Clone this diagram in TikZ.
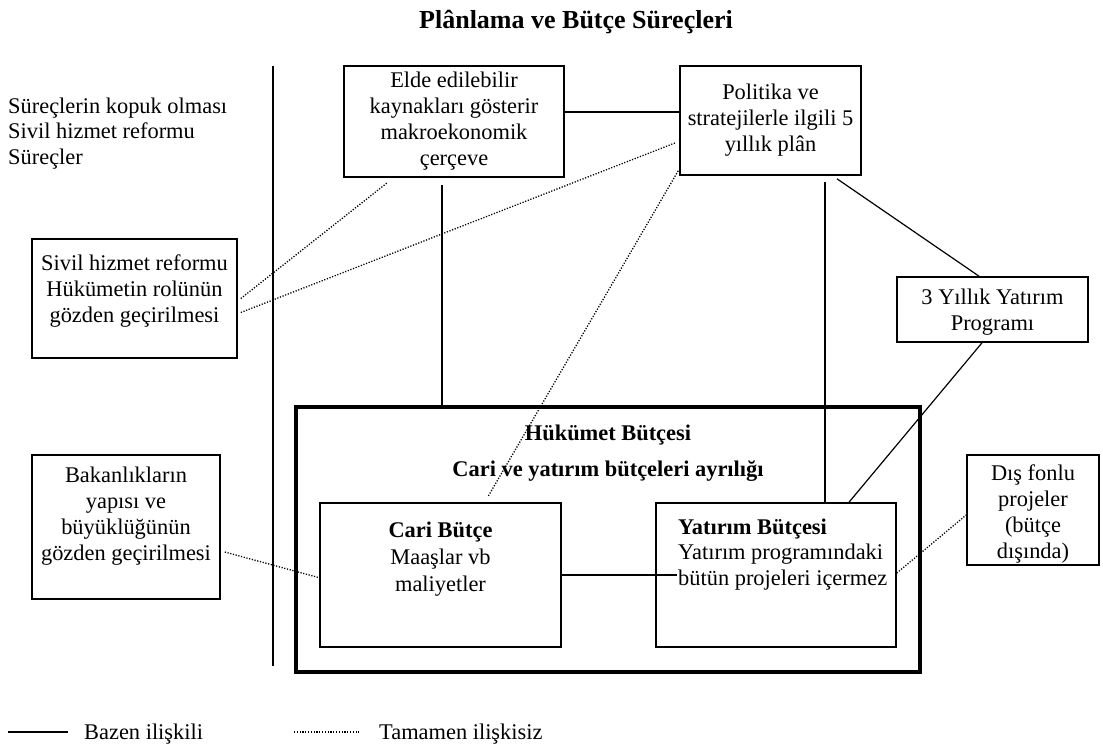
\documentclass[tikz,border=0pt]{standalone}
\usepackage{fontspec}
\setmainfont{Liberation Serif}
\begin{document}
\begin{tikzpicture}[x=1pt,y=-1pt,
  box/.style={draw, line width=1.6pt, inner sep=0pt, rectangle},
  bigbox/.style={draw, line width=3.5pt, inner sep=0pt, rectangle},
  txt/.style={inner sep=0pt, align=center, anchor=north, font=\fontsize{22.4}{26}\selectfont},
  ltxt/.style={inner sep=0pt, align=left, anchor=north west, font=\fontsize{22.4}{25.5}\selectfont},
  rel/.style={line width=1.2pt},
  norel/.style={line width=1.3pt, dash pattern=on 1.2pt off 1.6pt},
]
\useasboundingbox (0,0) rectangle (1103,749);

% title
\node[inner sep=0pt, anchor=base, font=\fontsize{26}{30}\selectfont\bfseries] (title) at (576,28.5) {Plânlama ve Bütçe Süreçleri};

% separator between the notes column and the process boxes
\draw[line width=1.3pt] (273,66) -- (273,666);

\node[ltxt] (notes) at (8,95) {\strut Süreçlerin kopuk olması\\Sivil hizmet reformu\\Süreçler};

% boxes
\node[box, minimum width=220pt, minimum height=111pt] (elde) at (454,121.5) {};
\node[txt] (eldeT) at (454,69) {\strut Elde edilebilir\\kaynakları gösterir\\makroekonomik\\çerçeve};

\node[box, minimum width=181pt, minimum height=109pt] (plan) at (770.5,120.5) {};
\node[txt] (planT) at (770.5,81) {\strut Politika ve\\stratejilerle ilgili 5\\yıllık plân};

\node[box, minimum width=205pt, minimum height=119pt] (sivil) at (134.5,298.5) {};
\node[txt] (sivilT) at (134.5,252) {\strut Sivil hizmet reformu\\Hükümetin rolünün\\gözden geçirilmesi};

\node[box, minimum width=191pt, minimum height=65pt] (yil) at (992.5,309.5) {};
\node[txt] (yilT) at (992.5,286) {\strut 3 Yıllık Yatırım\\Programı};

\node[bigbox, minimum width=624pt, minimum height=265pt] (huk) at (608,539.5) {};
\node[txt, font=\fontsize{22.4}{26}\selectfont\bfseries] (hukT) at (608,422) {\strut Hükümet Bütçesi\\[10pt]Cari ve yatırım bütçeleri ayrılığı};

\node[box, minimum width=241pt, minimum height=144pt] (cari) at (440.5,575) {};
\node[txt, font=\fontsize{22.4}{27}\selectfont] (cariT) at (440.5,518) {\strut\textbf{Cari Bütçe}\\Maaşlar vb\\maliyetler};

\node[box, minimum width=240pt, minimum height=144pt] (yat) at (776,575) {};
\node[ltxt] (yatT) at (678,516) {\strut\textbf{Yatırım Bütçesi}\\Yatırım programındaki\\bütün projeleri içermez};

\node[box, minimum width=188pt, minimum height=144pt] (bakan) at (126,527) {};
\node[txt] (bakanT) at (126,464) {\strut Bakanlıkların\\yapısı ve\\büyüklüğünün\\gözden geçirilmesi};

\node[box, minimum width=132pt, minimum height=110pt] (dis) at (1033,510) {};
\node[txt] (disT) at (1033,462) {\strut Dış fonlu\\projeler\\(bütçe\\dışında)};

% sometimes related
\draw[rel] ([shift={(0,-9.5)}]elde.east) -- ([shift={(0,-8.5)}]plan.west);
\draw[rel] ([shift={(-12,7)}]elde.south) coordinate (e1) -- (e1 |- huk.north);
\draw[rel] ([shift={(54.5,6)}]plan.south) coordinate (p1) -- (p1 |- yat.north);
\draw[rel] ([shift={(66.5,3)}]plan.south) -- ([shift={(-13.5,0)}]yil.north);
\draw[rel] ([shift={(-10.5,0)}]yil.south) -- ([shift={(73,0)}]yat.north);
\draw[rel] (cari.east) -- ([shift={(22,0)}]yat.west);

% completely unrelated
\draw[norel] ([shift={(3,0)}]sivil.east) -- ([shift={(44,5)}]elde.south west);
\draw[norel] ([shift={(3,14)}]sivil.east) -- ([shift={(-3,22)}]plan.west);
\draw[norel] ([shift={(-1,-5)}]plan.south west) -- ([shift={(169,-6)}]cari.north west);
\draw[norel] ([shift={(4,25)}]bakan.east) -- ([shift={(1,3)}]cari.west);
\draw[norel] ([shift={(0,-2)}]yat.east) -- ([shift={(0,5)}]dis.west);

% legend
\draw[rel] (8,732) -- (68,732);
\node[inner sep=0pt, anchor=base west, font=\fontsize{22.4}{26}\selectfont] (legA) at (84,739) {Bazen ilişkili};
\draw[norel] (294,732) -- (359,732);
\node[inner sep=0pt, anchor=base west, font=\fontsize{22.4}{26}\selectfont] (legB) at (379,739) {Tamamen ilişkisiz};
\end{tikzpicture}
\end{document}
